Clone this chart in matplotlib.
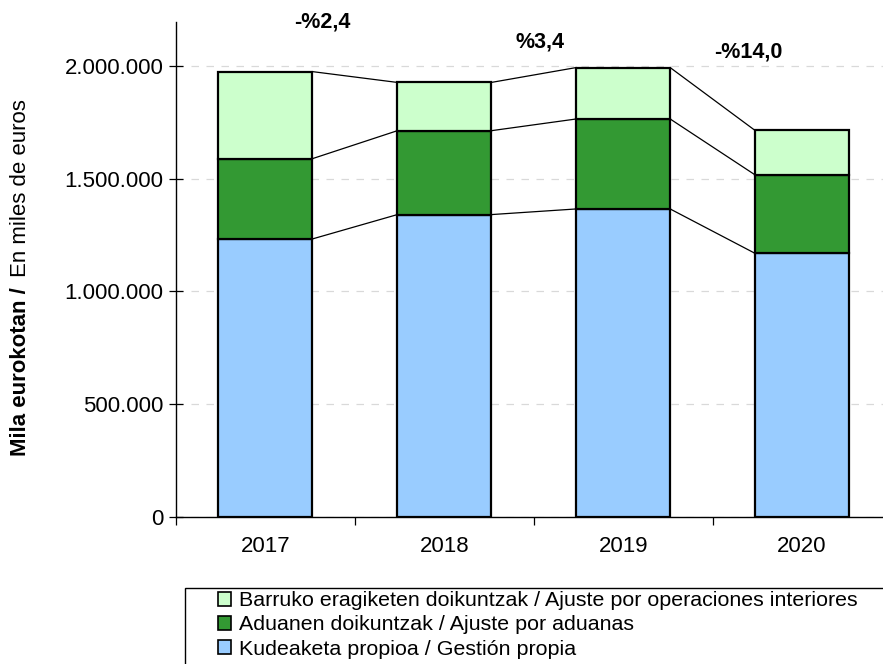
import matplotlib
matplotlib.use("Agg")
import matplotlib.pyplot as plt
from matplotlib.patches import Patch, Rectangle
from matplotlib.ticker import FuncFormatter
import numpy as np

plt.rcParams['font.family'] = ['Liberation Sans', 'DejaVu Sans']

years = ["2017", "2018", "2019", "2020"]
gestion_propia = [1233000, 1341000, 1366000, 1169000]
ajuste_aduanas = [356000, 372000, 399000, 348000]
ajuste_interiores = [386000, 214000, 228000, 197000]
change_labels = ["-%2,4", "%3,4", "-%14,0"]

series_names = [
    "Kudeaketa propioa / Gestión propia",
    "Aduanen doikuntzak / Ajuste por aduanas",
    "Barruko eragiketen doikuntzak / Ajuste por operaciones interiores",
]
colors = ["#99CCFF", "#339933", "#CCFFCC"]

W, H = 883, 664
fig = plt.figure(figsize=(W / 100, H / 100), dpi=100)
ax = fig.add_axes([176 / W, 1 - 517 / H, (891.5 - 176) / W, (517 - 22) / H])

x = np.arange(len(years))
bw = 0.525
layers = [gestion_propia, ajuste_aduanas, ajuste_interiores]
bottom = np.zeros(len(years))
tops = []
for vals, col in zip(layers, colors):
    vals = np.array(vals, dtype=float)
    ax.bar(x, vals, bw, bottom=bottom, color=col, edgecolor="black",
           linewidth=1.6, zorder=3)
    bottom = bottom + vals
    tops.append(bottom.copy())

# connector lines between the stacked segments of neighbouring bars
for t in tops:
    for i in range(len(years) - 1):
        ax.plot([x[i] + bw / 2, x[i + 1] - bw / 2], [t[i], t[i + 1]],
                color="black", linewidth=0.9, zorder=2)

ax.set_xlim(-0.5, len(years) - 0.5)
ax.set_ylim(0, 2195000)
ax.set_yticks([0, 500000, 1000000, 1500000, 2000000])
ax.yaxis.set_major_formatter(FuncFormatter(lambda v, p: f"{int(v):,}".replace(",", ".")))
ax.set_xticks(x)
ax.set_xticklabels(years)
ax.set_xticks(np.arange(-0.5, len(years) - 0.5, 1.0), minor=True)
ax.tick_params(axis="x", which="major", length=0, pad=14, labelsize=16)
ax.tick_params(axis="x", which="minor", length=6, width=0.9, direction="out")
ax.tick_params(axis="y", direction="inout", length=10, width=0.9, pad=4, labelsize=16)

for s in ["top", "right"]:
    ax.spines[s].set_visible(False)
for s in ["left", "bottom"]:
    ax.spines[s].set_linewidth(1.0)

ax.yaxis.grid(True, color="#d9d9d9", linestyle=(0, (6, 6)), linewidth=0.9, zorder=0)
ax.set_axisbelow(True)

# year-on-year change of the totals
label_pos = [(0.32, 2195000), (1.535, 2107000), (2.70, 2062000)]
for (lx, ly), txt in zip(label_pos, change_labels):
    ax.text(lx, ly, txt, ha="center", va="center", fontsize=15.5,
            fontweight="bold", clip_on=False)

# two-part y axis title: bold Basque, regular Spanish
t1 = fig.text(21 / W, 1 - 456 / H, "Mila eurokotan / ", rotation=90,
              ha="center", va="bottom", fontsize=16, fontweight="bold")
fig.canvas.draw()
bb = t1.get_window_extent()
t2 = fig.text(21 / W, (bb.y1 + 4) / H, "En miles de euros", rotation=90,
              ha="center", va="bottom", fontsize=16)

# legend box
fig.patches.append(Rectangle((185 / W, -0.05), 1.0, (1 - 588 / H) + 0.05,
                             transform=fig.transFigure, fill=False,
                             edgecolor="black", linewidth=1.0))
handles = [Patch(facecolor=c, edgecolor="black", linewidth=1.2)
           for c in colors[::-1]]
fig.legend(handles, series_names[::-1], loc="upper left",
           bbox_to_anchor=(214 / W, 1 - 587 / H), frameon=False,
           fontsize=15.4, handlelength=0.6, handleheight=0.6,
           handletextpad=0.35, labelspacing=0.24, borderpad=0.2,
           borderaxespad=0)

fig.savefig("out.png", dpi=100)
